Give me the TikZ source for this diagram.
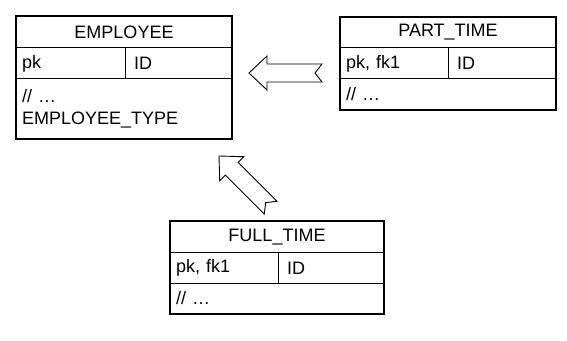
\documentclass[tikz,border=0pt]{standalone}
\usepackage{fontspec}
\setmainfont{Liberation Sans}
\usepackage{tikz}
\newcommand\tabfont{\fontsize{18}{22.5}\selectfont}

\tikzset{
  tabletitle/.style={draw, line width=1pt, inner sep=0pt, outer sep=0pt, anchor=north west, font=\tabfont},
  tablecell/.style={draw, line width=1pt, inner xsep=6pt, inner ysep=0pt, outer sep=0pt, anchor=north west, align=left, font=\tabfont},
  tableframe/.style={line width=2pt},
  pics/isarrow/.style={code={
    \draw[line width=0.9pt, fill=white] (0,0) -- (18,17) -- (18,9) -- (73,9) -- (66,0) -- (73,-9) -- (18,-9) -- (18,-17) -- cycle;
  }}
}

\begin{document}
\begin{tikzpicture}[x=1pt, y=1pt]
        \useasboundingbox (0,0) rectangle (567,340);

        % Tabla EMPLOYEE
        \node[tabletitle, minimum width=216pt, minimum height=32pt] (emp) at (16,324) {EMPLOYEE};
        \node[tablecell, text width=97pt, minimum height=31pt] (emppk) at (emp.south west) {pk};
        \node[tablecell, inner xsep=9pt, text width=89pt, minimum height=31pt] (empid) at (emppk.north east) {ID};
        \node[tablecell, text width=204pt, minimum height=60pt] (empbody) at (emppk.south west) {// …\\EMPLOYEE\_TYPE};
        \draw[tableframe] (emp.north west) rectangle (empbody.south east);

        % Tabla PART_TIME
        \node[tabletitle, minimum width=216pt, minimum height=31pt] (part) at (340,323) {PART\_TIME};
        \node[tablecell, text width=96pt, minimum height=31pt] (partpk) at (part.south west) {pk, fk1};
        \node[tablecell, inner xsep=9pt, text width=90pt, minimum height=31pt] (partid) at (partpk.north east) {ID};
        \node[tablecell, text width=204pt, minimum height=31pt] (partbody) at (partpk.south west) {// …};
        \draw[tableframe] (part.north west) rectangle (partbody.south east);

        % Tabla FULL_TIME
        \node[tabletitle, minimum width=214pt, minimum height=32pt] (full) at (170,119) {FULL\_TIME};
        \node[tablecell, text width=96pt, minimum height=30pt] (fullpk) at (full.south west) {pk, fk1};
        \node[tablecell, inner xsep=9pt, text width=88pt, minimum height=30pt] (fullid) at (fullpk.north east) {ID};
        \node[tablecell, text width=202pt, minimum height=31pt] (fullbody) at (fullpk.south west) {// …};
        \draw[tableframe] (full.north west) rectangle (fullbody.south east);

        % Flechas de herencia
        \coordinate (parttip) at (249,267);
        \coordinate (fulltip) at (219,184);
        \pic at (parttip) {isarrow};
        \pic[rotate=-45] at (fulltip) {isarrow};
    \end{tikzpicture}
\end{document}
